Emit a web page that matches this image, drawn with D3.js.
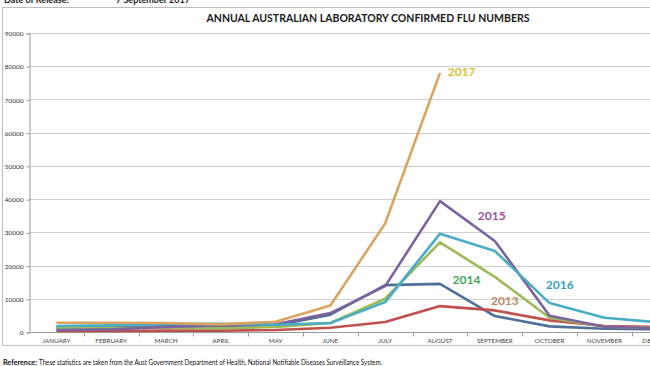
<!DOCTYPE html>
<html>
<head>
<meta charset="utf-8">
<script src="https://cdn.jsdelivr.net/npm/d3@7"></script>
<style>
  body { margin: 0; background: #fff; }
  svg { display: block; font-family: Lato, "Open Sans", sans-serif; }
</style>
</head>
<body>
<script>
const w = 650;
const h = 366;

const months = ["JANUARY", "FEBRUARY", "MARCH", "APRIL", "MAY", "JUNE",
  "JULY", "AUGUST", "SEPTEMBER", "OCTOBER", "NOVEMBER", "DECEMBER"];
const yTicks = [0, 10000, 20000, 30000, 40000, 50000, 60000, 70000, 80000, 90000];

// monthly confirmed cases
const years = ["2012", "2013", "2014", "2015", "2016", "2017"];
const v2012 = [1400, 1500, 1700, 1900, 2000, 5200, 14100, 14500, 4800, 1700, 1000, 800];
const v2013 = [300, 300, 400, 400, 600, 1300, 3000, 7800, 6500, 3500, 1800, 1500];
const v2014 = [1200, 1200, 1300, 1100, 1500, 2700, 10000, 27000, 16600, 4300, 1600, 1200];
const v2015 = [600, 800, 1500, 2000, 2300, 5700, 13800, 39400, 27400, 4900, 1600, 1100];
const v2016 = [1800, 2000, 2400, 2500, 2200, 2700, 9000, 29600, 24400, 8700, 4300, 2900];
const v2017 = [2800, 2800, 2700, 2300, 3100, 8000, 32700, 78000];
const series = [v2012, v2013, v2014, v2015, v2016, v2017];
const lineColors = ["#4e6f98", "#c0504d", "#9bbb59", "#7b63a0", "#4bacc6", "#dba35e"];

// year tags: anchored at (month index, value)
const tagYears = ["2017", "2015", "2014", "2016", "2013"];
const tagAt = [7.14, 7.69, 7.23, 8.93, 7.93];
const tagValue = [78300, 34900, 15800, 14000, 9200];
const tagColors = ["#d9c13a", "#9a52a8", "#3ea65a", "#36a2c4", "#b88a66"];

const svg = d3.select("body").append("svg").attr("width", w).attr("height", h);

// chart frame (runs off the right edge like the source)
svg.append("rect")
  .attr("x", 2.5).attr("y", 7.5)
  .attr("width", 700).attr("height", 338)
  .attr("fill", "none").attr("stroke", "#bdbdbd");

// cut-off header text at the very top
svg.append("text").attr("x", 4).attr("y", 2.5)
  .attr("font-size", 9).attr("font-weight", "bold").attr("fill", "#222")
  .text("Date of Release:");
svg.append("text").attr("x", 116).attr("y", 2.5)
  .attr("font-size", 9).attr("font-weight", "bold").attr("fill", "#222")
  .text("7 September 2017");

svg.append("text")
  .attr("x", 368).attr("y", 22)
  .attr("text-anchor", "middle")
  .attr("font-size", 12).attr("font-weight", "bold").attr("fill", "#1a1a1a")
  .attr("textLength", 323).attr("lengthAdjust", "spacingAndGlyphs")
  .text("ANNUAL AUSTRALIAN LABORATORY CONFIRMED FLU NUMBERS");

// * SCALES
const plotLeft = 29;
const step = 54.8;
const xBand = d3.scaleBand().domain(months).range([plotLeft, plotLeft + step * 12]);
const x = (i) => xBand(months[i]) + xBand.bandwidth() / 2;
const xi = d3.scaleLinear().domain([0, 11]).range([x(0), x(11)]);
const y = d3.scaleLinear().domain([0, 90000]).range([332, 33]);

// * GRID
svg.append("g")
  .selectAll("line")
  .data(yTicks.slice(1))
  .join("line")
  .attr("x1", plotLeft).attr("x2", w)
  .attr("y1", (d) => Math.round(y(d)) + 0.5)
  .attr("y2", (d) => Math.round(y(d)) + 0.5)
  .attr("stroke", "#cfcfcf");

// * Y AXIS
const yAxis = d3.axisLeft(y).tickValues(yTicks).tickFormat(d3.format("d")).tickSize(3).tickPadding(3);
const gy = svg.append("g").attr("transform", `translate(${plotLeft + 0.5},0.5)`).call(yAxis);
gy.selectAll("path, line").attr("stroke", "#9a9a9a");
gy.selectAll("text").attr("font-size", 6.5).attr("fill", "#333").attr("font-family", "Lato, sans-serif");

// * X AXIS
const xAxis = d3.axisBottom(xBand).tickSize(0).tickPadding(6);
const gx = svg.append("g").attr("transform", `translate(0,${Math.round(y(0)) + 0.5})`).call(xAxis);
gx.select(".domain").attr("stroke", "#9a9a9a").attr("d", `M${plotLeft},0H${w + 10}`);
gx.selectAll("text").attr("font-size", 6.3).attr("fill", "#444").attr("font-family", "Lato, sans-serif");
gx.selectAll(".sep")
  .data(d3.range(1, 12))
  .join("line")
  .attr("class", "sep")
  .attr("x1", (d) => Math.round(xBand(months[d])) + 0.5)
  .attr("x2", (d) => Math.round(xBand(months[d])) + 0.5)
  .attr("y1", 0).attr("y2", 4)
  .attr("stroke", "#9a9a9a");

// * LINES
const line = d3.line().x((d, i) => x(i)).y((d) => y(d));
svg.append("g")
  .selectAll("path")
  .data(series)
  .join("path")
  .attr("d", line)
  .attr("fill", "none")
  .attr("stroke", (d, i) => lineColors[i])
  .attr("stroke-width", 2.6)
  .attr("stroke-linejoin", "round");

// * YEAR TAGS
svg.append("g")
  .selectAll("text")
  .data(tagYears)
  .join("text")
  .attr("x", (d, i) => xi(tagAt[i]))
  .attr("y", (d, i) => y(tagValue[i]) + 4)
  .attr("font-size", 12).attr("font-weight", "bold")
  .attr("fill", (d, i) => tagColors[i])
  .text((d) => d);

// * FOOTNOTE
svg.append("text").attr("x", 3).attr("y", 365)
  .attr("font-size", 7.4).attr("font-weight", "bold").attr("fill", "#111")
  .attr("textLength", 34).attr("lengthAdjust", "spacingAndGlyphs")
  .text("Reference:");
svg.append("text").attr("x", 39).attr("y", 365)
  .attr("font-size", 7.4).attr("fill", "#111")
  .attr("textLength", 343).attr("lengthAdjust", "spacingAndGlyphs")
  .text("These statistics are taken from the Aust Government Department of Health, National Notifiable Diseases Surveillance System.");
</script>
</body>
</html>
